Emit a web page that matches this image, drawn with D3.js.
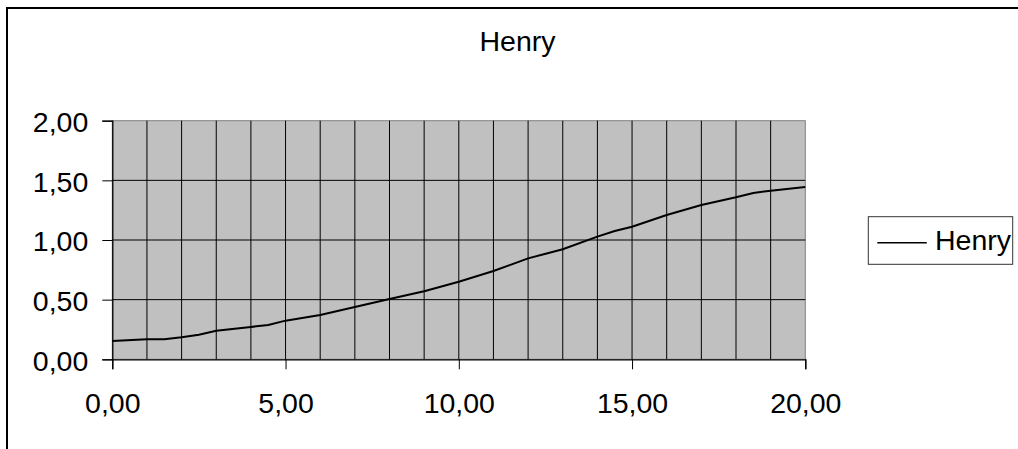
<!DOCTYPE html>
<html>
<head>
<meta charset="utf-8">
<script src="https://cdn.jsdelivr.net/npm/d3@7"></script>
<style>
  body { margin: 0; background: #fff; }
  svg { display: block; font-family: "Liberation Sans", Arial, sans-serif; }
</style>
</head>
<body>
<div id="chart"></div>
<script>
// datos de la serie
let xValues = [0, 1, 1.5, 2, 2.5, 3, 4, 4.5, 5, 6, 7, 8, 9, 10, 11, 12, 13, 14, 14.5, 15, 16, 17, 18, 18.5, 19, 20];
let henry = [0.153, 0.168, 0.168, 0.184, 0.206, 0.240, 0.271, 0.288, 0.324, 0.371, 0.438, 0.505, 0.570, 0.650, 0.740, 0.846, 0.922, 1.028, 1.075, 1.111, 1.210, 1.294, 1.358, 1.394, 1.413, 1.444];
let xTicks = [0, 5, 10, 15, 20];
let yTicks = [0, 0.5, 1, 1.5, 2];
let seriesName = 'Henry';
let title = 'Henry';

let W = 1018, H = 449;
let margin = {top: 120.7, left: 112.3, right: W - 805.3, bottom: H - 359.3};
let width = W - margin.left - margin.right,
    height = H - margin.top - margin.bottom;
let fontSize = '28.5px';

let fmt = function(d) { return d.toFixed(2).replace('.', ','); };

let svg = d3.select('#chart').append('svg')
    .attr('width', W)
    .attr('height', H);

//Borde del área del gráfico
svg.append('path')
    .attr('d', `M7,${H} L7,8 L${W},8`)
    .attr('fill', 'none')
    .attr('stroke', '#000')
    .attr('stroke-width', 2);

//Título
svg.append('text')
    .attr('x', 517.5)
    .attr('y', 51)
    .attr('text-anchor', 'middle')
    .style('font-size', fontSize)
    .text(title);

let chart = svg.append('g')
    .attr('transform', `translate(${margin.left},${margin.top})`);

let x = d3.scaleLinear().domain([0, 20]).range([0, width]);
let y = d3.scaleLinear().domain([0, 2]).range([height, 0]);

//Fondo
chart.append('rect')
    .attr('width', width)
    .attr('height', height)
    .attr('fill', '#c0c0c0')
    .attr('stroke', '#808080')
    .attr('stroke-width', 1);

//Rejilla vertical
chart.append('g')
    .selectAll('line')
    .data(d3.range(1, 20))
    .enter()
    .append('line')
    .attr('x1', d => x(d)).attr('x2', d => x(d))
    .attr('y1', 0).attr('y2', height)
    .attr('stroke', '#000')
    .attr('stroke-width', 1);

//Rejilla horizontal
chart.append('g')
    .selectAll('line')
    .data(yTicks.slice(1, -1))
    .enter()
    .append('line')
    .attr('x1', 0).attr('x2', width)
    .attr('y1', d => y(d)).attr('y2', d => y(d))
    .attr('stroke', '#000')
    .attr('stroke-width', 1);

//Ejes
let xAxis = function(g) {
    g.call(d3.axisBottom(x).tickValues(xTicks).tickFormat(fmt).tickSize(10).tickPadding(23));
    g.select('.domain').attr('stroke', '#000').attr('stroke-width', 1.3);
    g.selectAll('.tick line').attr('stroke', '#000');
    g.selectAll('.tick text').style('font-size', fontSize).attr('fill', '#000')
        .style('font-family', '"Liberation Sans", Arial, sans-serif');
};
chart.append('g')
    .attr('transform', `translate(0,${height})`)
    .call(xAxis);

let yAxis = function(g) {
    g.call(d3.axisLeft(y).tickValues(yTicks).tickFormat(fmt).tickSize(10).tickPadding(14));
    g.select('.domain').attr('stroke', '#000').attr('stroke-width', 1.3);
    g.selectAll('.tick line').attr('stroke', '#000');
    g.selectAll('.tick text').style('font-size', fontSize).attr('fill', '#000')
        .attr('dy', '0.38em')
        .style('font-family', '"Liberation Sans", Arial, sans-serif');
};
chart.append('g').call(yAxis);

//Línea
let data = xValues.map((d, i) => ({x: d, y: henry[i]}));
chart.append('path')
    .datum(data)
    .attr('fill', 'none')
    .attr('stroke', '#000')
    .attr('stroke-width', 2)
    .attr('d', d3.line().x(d => x(d.x)).y(d => y(d.y)));

//Leyenda
let legend = svg.append('g').attr('transform', 'translate(868.3,216.7)');
legend.append('rect')
    .attr('width', 144.4)
    .attr('height', 47.6)
    .attr('fill', '#fff')
    .attr('stroke', '#333')
    .attr('stroke-width', 1);
legend.append('line')
    .attr('x1', 9).attr('x2', 58.5)
    .attr('y1', 26).attr('y2', 26)
    .attr('stroke', '#000')
    .attr('stroke-width', 1.5);
legend.append('text')
    .attr('x', 66.7)
    .attr('y', 33.5)
    .style('font-size', fontSize)
    .text(seriesName);
</script>
</body>
</html>
